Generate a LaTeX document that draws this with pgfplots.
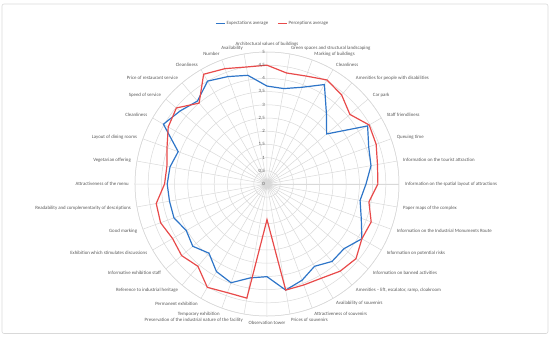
\documentclass[border=0pt]{standalone}
\usepackage{fontspec}
\setmainfont{Carlito}
\usepackage{pgfplots}
\pgfplotsset{compat=1.18}
\usepgfplotslibrary{polar}
\definecolor{expblue}{RGB}{46,117,200}
\definecolor{perred}{RGB}{232,74,74}
\definecolor{gridgray}{RGB}{217,217,217}
\definecolor{txt}{RGB}{89,89,89}
\begin{document}
\begin{tikzpicture}[x=1pt,y=1pt,
  lab/.style={font=\fontsize{4.85}{5.5}\selectfont, text=txt, inner sep=0pt},
  rl/.style={font=\fontsize{4.85}{5.5}\selectfont, text=txt, inner sep=0pt, anchor=east, xshift=-2pt}]
\path[use as bounding box] (-267,-154) rectangle (283,184);
\draw[gridgray, line width=0.6pt, rounded corners=2pt] (-265,-149.5) rectangle (281,180);
\begin{polaraxis}[
  at={(0pt,0pt)}, anchor=center,
  scale only axis, width=264pt, height=264pt,
  ymin=0, ymax=5,
  xtick={0,10,...,350},
  ytick={0,0.5,...,5},
  xticklabels={}, yticklabels={},
  grid=major,
  major grid style={draw=gridgray, line width=0.5pt},
  axis line style={draw=gridgray, line width=0.5pt},
  major tick length=0pt,
  tick style={draw=none},
  clip=false,
]
\addplot[expblue, line width=1.2pt, mark=none] coordinates {
(90,3.71) (80,3.67) (70,3.9) (60,4.35) (50,3.5) (40,2.95) (30,4.4) (20,4.1) (10,4.0)
(0,3.75) (-10,3.58) (-20,3.8) (-30,4.15) (-40,3.81) (-50,3.83) (-60,3.6) (-70,3.88) (-80,4.08)
(-90,3.51) (-100,3.61) (-110,3.98) (-120,3.83) (-130,3.42) (-140,3.67) (-150,3.53) (-160,3.75) (-170,3.75)
(-180,3.78) (-190,3.73) (-200,3.58) (-210,4.53) (-220,4.3) (-230,4.1) (-240,4.5) (-250,4.33) (-260,4.18)
(-270,3.71)};
\addplot[perred, line width=1.2pt, mark=none] coordinates {
(90,4.5) (80,4.27) (70,4.35) (60,4.55) (50,4.4) (40,4.1) (30,4.47) (20,4.4) (10,4.25)
(0,4.2) (-10,3.92) (-20,4.2) (-30,4.15) (-40,4.4) (-50,4.31) (-60,4.12) (-70,4.07) (-80,4.08)
(-90,1.35) (-100,4.39) (-110,4.38) (-120,4.52) (-130,4.07) (-140,4.22) (-150,4.13) (-160,4.29) (-170,4.26)
(-180,3.88) (-190,3.85) (-200,4.03) (-210,4.32) (-220,4.48) (-230,4.0) (-240,4.8) (-250,4.65) (-260,4.5)
(-270,4.5)};
% radial labels
\node[rl] at (axis cs:90,0) {0};
\node[rl] at (axis cs:90,0.5) {0,5};
\node[rl] at (axis cs:90,1) {1};
\node[rl] at (axis cs:90,1.5) {1,5};
\node[rl] at (axis cs:90,2) {2};
\node[rl] at (axis cs:90,2.5) {2,5};
\node[rl] at (axis cs:90,3) {3};
\node[rl] at (axis cs:90,3.5) {3,5};
\node[rl] at (axis cs:90,4) {4};
\node[rl] at (axis cs:90,4.5) {4,5};
\node[rl] at (axis cs:90,5) {5};
% category labels
\node[lab, anchor=south] at (axis cs:90,5.2) {Architectural values of buildings};
\node[lab, anchor=west] at (axis cs:80,5.23) {Green spaces and structural landscaping};
\node[lab, anchor=west] at (axis cs:70,5.23) {Marking of buildings};
\node[lab, anchor=west] at (axis cs:60,5.23) {Cleanliness};
\node[lab, anchor=west] at (axis cs:50,5.23) {Amenities for people with disabilities};
\node[lab, anchor=west] at (axis cs:40,5.23) {Car park};
\node[lab, anchor=west] at (axis cs:30,5.23) {Staff friendliness};
\node[lab, anchor=west] at (axis cs:20,5.23) {Queuing time};
\node[lab, anchor=west] at (axis cs:10,5.23) {Information on the tourist attraction};
\node[lab, anchor=west] at (axis cs:0,5.23) {Information on the spatial layout of attractions};
\node[lab, anchor=west] at (axis cs:-10,5.23) {Paper maps of the complex};
\node[lab, anchor=west] at (axis cs:-20,5.23) {Information on the Industrial Monuments Route};
\node[lab, anchor=west] at (axis cs:-30,5.23) {Information on potential risks};
\node[lab, anchor=west] at (axis cs:-40,5.23) {Information on banned activities};
\node[lab, anchor=west] at (axis cs:-50,5.23) {Amenities -- lift, escalator, ramp, cloakroom};
\node[lab, anchor=west] at (axis cs:-60,5.23) {Availability of souvenirs};
\node[lab, anchor=west] at (axis cs:-70,5.23) {Attractiveness of souvenirs};
\node[lab, anchor=west] at (axis cs:-80,5.23) {Prices of souvenirs};
\node[lab, anchor=north] at (axis cs:-90,5.2) {Observation tower};
\node[lab, anchor=east] at (axis cs:-100,5.23) {Preservation of the industrial nature of the facility};
\node[lab, anchor=east] at (axis cs:-110,5.23) {Temporary exhibition};
\node[lab, anchor=east] at (axis cs:-120,5.23) {Permanent exhibition};
\node[lab, anchor=east] at (axis cs:-130,5.23) {Reference to industrial heritage};
\node[lab, anchor=east] at (axis cs:-140,5.23) {Informative exhibition staff};
\node[lab, anchor=east] at (axis cs:-150,5.23) {Exhibition which stimulates discussions};
\node[lab, anchor=east] at (axis cs:-160,5.23) {Good marking};
\node[lab, anchor=east] at (axis cs:-170,5.23) {Readability and complementarity of descriptions};
\node[lab, anchor=east] at (axis cs:-180,5.23) {Attractiveness of the menu};
\node[lab, anchor=east] at (axis cs:-190,5.23) {Vegetarian offering};
\node[lab, anchor=east] at (axis cs:-200,5.23) {Layout of dining rooms};
\node[lab, anchor=east] at (axis cs:-210,5.23) {Cleanliness};
\node[lab, anchor=east] at (axis cs:-220,5.23) {Speed of service};
\node[lab, anchor=east] at (axis cs:-230,5.23) {Price of restaurant service};
\node[lab, anchor=east] at (axis cs:-240,5.23) {Cleanliness};
\node[lab, anchor=east] at (axis cs:-250,5.23) {Number};
\node[lab, anchor=east] at (axis cs:-260,5.23) {Availability};
\end{polaraxis}
% legend
\draw[expblue, line width=1.4pt] (-51,160.3) -- (-42,160.3);
\node[lab, anchor=west] at (-40.5,160.3) {Expectations average};
\draw[perred, line width=1.4pt] (11,160.3) -- (20,160.3);
\node[lab, anchor=west] at (21.5,160.3) {Perceptions average};
\end{tikzpicture}
\end{document}
